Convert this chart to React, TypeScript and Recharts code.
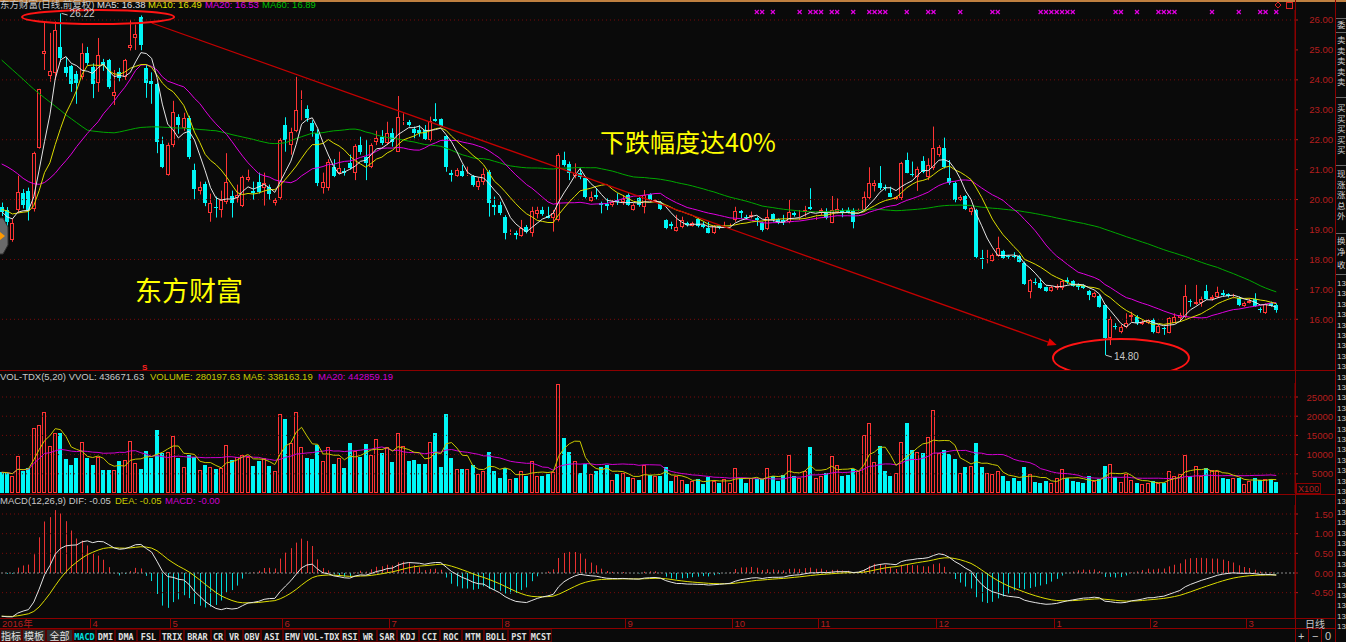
import React from 'react'
import { ComposedChart, Bar, Line, XAxis, YAxis, ReferenceLine, ReferenceDot } from 'recharts'

// 东方财富 日线 (前复权), one entry per trading day
const opens = [
  19.75, 19.65, 18.65, 19.65, 20.23, 20.3, 19.7, 21.71, 24.86, 24.13,
  24.22, 25.1, 24.43, 24.46, 24.2, 24.1, 24.9, 24.43, 23.9, 24.6,
  24.66, 23.46, 24.27, 24.1, 25.05, 25.39, 26.09, 24.4, 23.97, 23.86,
  21.86, 20.82, 21.82, 22.76, 22.39, 22.72, 21.0, 20.3, 20.52, 19.54,
  19.76, 19.65, 19.93, 20.12, 20.05, 19.78, 20.65, 20.3, 20.6, 20.38,
  20.43, 19.9, 20.05, 22.49, 21.82, 22.3, 23.33, 23.03, 22.55, 22.22,
  20.38, 20.38, 21.1, 20.89, 20.95, 21.22, 20.89, 21.82, 21.42, 21.1,
  21.93, 22.1, 21.88, 22.24, 21.6, 22.58, 22.6, 22.35, 22.32, 22.32,
  21.99, 22.68, 22.68, 22.12, 20.9, 20.79, 20.97, 20.82, 20.79, 20.43,
  20.6, 20.93, 19.82, 19.82, 19.43, 18.89, 18.87, 18.78, 19.07, 18.87,
  19.52, 19.65, 19.45, 19.37, 19.32, 21.32, 21.19, 20.8, 20.88, 20.71,
  19.96, 20.15, 19.88, 19.85, 19.82, 19.99, 19.93, 20.15, 19.65, 20.04,
  19.76, 20.17, 19.93, 19.91, 19.32, 19.17, 18.96, 19.07, 19.21, 19.13,
  19.35, 19.15, 19.04, 18.87, 19.12, 19.1, 19.1, 19.32, 19.63, 19.43,
  19.43, 19.4, 19.21, 19.01, 19.51, 19.34, 19.32, 19.26, 19.54, 19.37,
  19.6, 19.74, 19.43, 19.54, 19.56, 19.23, 19.6, 19.65, 19.65, 19.63,
  19.63, 19.65, 20.04, 20.45, 20.54, 20.42, 20.23, 20.01, 20.04, 21.32,
  20.86, 20.77, 21.3, 20.77, 21.04, 21.49, 21.73, 20.71, 20.56, 19.99,
  20.13, 19.6, 19.65, 18.06, 18.02, 17.95, 18.13, 18.28, 18.11, 18.13,
  18.13, 17.89, 16.92, 17.26, 17.2, 17.07, 16.95, 17.03, 17.03, 17.31,
  17.29, 17.15, 17.12, 16.95, 16.76, 16.79, 16.48, 15.36, 15.77, 15.59,
  15.73, 16.09, 16.09, 15.84, 15.89, 15.98, 15.55, 15.7, 15.55, 15.89,
  16.03, 16.09, 16.6, 16.5, 16.53, 16.96, 16.67, 16.73, 16.87, 16.85,
  16.7, 16.7, 16.44, 16.56, 16.67, 16.33, 16.2, 16.56, 16.49,
]
const highs = [
  19.9, 19.75, 19.37, 20.8, 20.35, 20.4, 21.6, 23.7, 25.9, 25.57,
  25.95, 26.22, 24.77, 24.5, 24.3, 25.22, 25.1, 24.55, 25.4, 24.7,
  24.7, 24.33, 24.4, 24.7, 26.0, 25.85, 26.15, 24.5, 24.25, 23.9,
  22.1, 21.9, 23.3, 22.85, 22.9, 22.8, 21.2, 20.6, 20.6, 20.2,
  20.1, 20.3, 21.55, 20.3, 20.5, 20.8, 21.0, 20.6, 20.9, 20.9,
  20.5, 20.05, 22.05, 22.75, 22.4, 24.1, 23.65, 23.15, 22.65, 22.35,
  20.9, 21.35, 21.35, 21.6, 21.05, 21.5, 21.85, 22.1, 22.0, 21.88,
  22.3, 22.32, 22.6, 22.38, 23.46, 22.88, 22.66, 22.44, 22.49, 22.49,
  22.77, 23.22, 22.71, 22.15, 20.99, 21.05, 21.16, 21.1, 20.82, 20.74,
  21.04, 20.99, 20.1, 19.93, 19.48, 19.0, 18.96, 19.32, 19.15, 19.76,
  19.76, 19.76, 19.76, 19.65, 21.55, 21.6, 21.27, 21.21, 21.04, 20.77,
  20.27, 20.38, 19.93, 20.04, 19.99, 20.21, 20.15, 20.21, 19.88, 20.1,
  20.32, 20.21, 20.0, 19.95, 19.34, 19.26, 19.49, 19.43, 19.26, 19.26,
  19.4, 19.26, 19.26, 19.15, 19.15, 19.26, 19.2, 19.76, 19.65, 19.49,
  19.6, 19.43, 19.26, 19.67, 19.54, 19.37, 19.49, 19.99, 19.6, 19.65,
  19.79, 20.38, 19.49, 19.71, 19.71, 20.12, 20.04, 19.71, 19.74, 19.71,
  19.7, 20.27, 21.08, 20.65, 21.12, 20.5, 20.43, 20.12, 21.26, 21.57,
  21.27, 21.1, 21.45, 21.38, 22.44, 21.82, 22.07, 21.32, 20.6, 20.15,
  20.15, 19.76, 19.69, 18.32, 18.32, 18.2, 18.76, 18.32, 18.15, 18.24,
  18.15, 17.93, 17.35, 17.37, 17.37, 17.09, 17.12, 17.17, 17.31, 17.4,
  17.31, 17.2, 17.17, 16.98, 16.92, 16.81, 16.5, 16.09, 15.87, 15.81,
  16.2, 16.25, 16.14, 15.98, 16.0, 16.03, 15.81, 15.75, 16.07, 16.2,
  16.22, 17.15, 16.67, 17.15, 16.76, 17.15, 16.81, 17.09, 16.98, 16.87,
  16.85, 16.76, 16.59, 16.7, 16.87, 16.4, 16.53, 16.59, 16.53,
]
const lows = [
  19.45, 19.05, 18.59, 19.55, 19.7, 19.3, 19.6, 21.7, 24.33, 23.94,
  24.0, 24.6, 24.1, 23.6, 23.2, 24.0, 24.5, 23.39, 23.6, 24.3,
  23.7, 23.16, 23.95, 24.0, 24.98, 25.0, 24.99, 23.4, 23.2, 21.55,
  21.05, 20.8, 21.75, 22.2, 22.3, 21.35, 20.0, 20.17, 19.78, 19.26,
  19.4, 19.4, 19.85, 19.4, 19.9, 19.75, 20.6, 20.0, 20.2, 19.8,
  20.0, 19.8, 20.0, 21.6, 21.5, 22.25, 22.65, 22.6, 22.1, 20.45,
  20.2, 20.3, 20.75, 20.85, 20.8, 21.0, 20.65, 21.5, 20.65, 21.05,
  21.82, 21.82, 21.82, 21.77, 21.6, 22.49, 22.44, 22.05, 22.1, 21.99,
  21.94, 22.6, 22.44, 20.93, 20.6, 20.76, 20.76, 20.79, 20.43, 20.32,
  20.49, 19.43, 19.48, 19.48, 18.67, 18.82, 18.67, 18.76, 18.87, 18.76,
  19.37, 19.46, 19.37, 18.93, 19.27, 21.1, 20.65, 20.71, 20.68, 20.04,
  19.93, 20.01, 19.54, 19.65, 19.76, 19.82, 19.82, 19.79, 19.63, 19.76,
  19.54, 19.93, 19.9, 19.65, 19.01, 19.01, 18.93, 19.04, 19.1, 19.1,
  19.07, 19.04, 18.87, 18.85, 19.01, 19.07, 19.07, 19.26, 19.37, 19.32,
  19.37, 19.12, 18.93, 18.98, 19.26, 19.18, 19.15, 19.21, 19.43, 19.32,
  19.43, 19.65, 19.32, 19.49, 19.34, 19.21, 19.54, 19.41, 19.54, 19.04,
  19.6, 19.63, 20.01, 20.27, 20.32, 20.3, 20.08, 19.99, 19.99, 20.88,
  20.77, 20.29, 20.88, 20.65, 20.99, 21.43, 21.04, 20.49, 19.91, 19.95,
  19.65, 19.48, 18.04, 17.68, 17.87, 17.93, 18.09, 18.02, 18.02, 18.04,
  17.9, 17.15, 16.7, 17.15, 17.01, 16.92, 16.92, 16.98, 16.98, 17.17,
  17.09, 16.98, 17.01, 16.64, 16.72, 16.39, 14.8, 15.14, 15.66, 15.53,
  15.7, 15.92, 15.81, 15.81, 15.84, 15.53, 15.53, 15.48, 15.53, 15.87,
  15.98, 16.03, 16.42, 16.48, 16.42, 16.65, 16.62, 16.7, 16.76, 16.73,
  16.7, 16.44, 16.42, 16.53, 16.42, 16.22, 16.18, 16.42, 16.22,
]
const closes = [
  19.6, 19.25, 19.21, 20.25, 19.82, 19.65, 21.55, 23.68, 24.97, 24.3,
  25.67, 24.72, 24.22, 23.86, 23.9, 24.9, 24.56, 23.86, 24.83, 24.5,
  23.76, 23.6, 24.05, 24.66, 25.15, 25.53, 25.16, 23.9, 23.86, 21.93,
  21.1, 21.82, 22.94, 22.5, 22.73, 21.42, 20.35, 20.42, 19.9, 19.9,
  19.72, 19.98, 20.6, 19.88, 20.15, 20.75, 20.75, 20.22, 20.26, 20.55,
  20.19, 19.98, 21.99, 21.99, 22.27, 23.0, 23.36, 22.73, 22.3, 20.55,
  20.6, 21.27, 20.79, 21.05, 20.9, 21.05, 21.79, 21.6, 21.23, 21.82,
  22.05, 21.9, 22.21, 21.94, 22.75, 22.62, 22.49, 22.21, 22.21, 22.01,
  22.64, 22.62, 22.46, 21.1, 20.82, 20.99, 20.79, 20.85, 20.49, 20.63,
  20.85, 19.87, 19.76, 19.54, 18.89, 18.93, 18.82, 19.04, 18.93, 19.62,
  19.65, 19.52, 19.4, 19.54, 21.49, 21.16, 20.88, 20.88, 20.77, 20.08,
  20.08, 20.1, 19.82, 19.8, 19.93, 19.93, 20.01, 19.82, 19.82, 19.82,
  20.15, 19.99, 19.97, 19.67, 19.04, 19.13, 19.07, 19.32, 19.15, 19.21,
  19.12, 19.1, 18.89, 19.12, 19.1, 19.12, 19.13, 19.63, 19.54, 19.4,
  19.49, 19.32, 18.98, 19.43, 19.32, 19.21, 19.26, 19.6, 19.49, 19.43,
  19.65, 19.69, 19.45, 19.65, 19.37, 19.65, 19.67, 19.54, 19.6, 19.26,
  19.65, 20.08, 20.56, 20.56, 20.38, 20.38, 20.1, 20.08, 21.23, 20.9,
  20.82, 21.01, 20.93, 21.16, 21.71, 21.77, 21.1, 20.54, 19.99, 20.1,
  19.69, 19.71, 18.09, 18.03, 18.06, 18.15, 18.37, 18.04, 18.08, 18.09,
  17.93, 17.17, 17.31, 17.2, 17.06, 16.95, 17.09, 17.12, 17.28, 17.23,
  17.12, 17.09, 17.03, 16.81, 16.87, 16.42, 15.39, 16.0, 15.73, 15.75,
  15.87, 16.14, 15.87, 15.92, 15.98, 15.59, 15.78, 15.66, 16.03, 16.07,
  16.14, 16.78, 16.58, 16.57, 16.67, 16.67, 16.76, 16.91, 16.82, 16.78,
  16.76, 16.48, 16.56, 16.62, 16.44, 16.31, 16.51, 16.44, 16.31,
]
// volume, in the panel's X100 unit
const volumes = [
  5400, 5200, 4500, 9600, 5650, 6500, 17000, 17800, 21100, 12200,
  15700, 15700, 8900, 7400, 9100, 13200, 9100, 7400, 9400, 6100,
  6100, 5900, 8300, 8700, 13500, 7700, 6300, 10900, 9100, 16400,
  10300, 10600, 14800, 9100, 6900, 9900, 9500, 6000, 7300, 6900,
  6200, 6400, 12500, 8600, 9500, 9900, 9500, 7000, 8400, 9000,
  7000, 5600, 20500, 19200, 13000, 21000, 11900, 9200, 8900, 12400,
  8400, 11900, 7600, 9000, 6400, 13000, 11000, 9500, 12700, 9900,
  14000, 10400, 12100, 8200, 15600, 12300, 8400, 8600, 7600, 7600,
  13400, 15600, 6900, 20600, 9200, 6300, 6200, 6300, 7300, 4900,
  5700, 10600, 5700, 4000, 6600, 3600, 4000, 5700, 4300, 8400,
  4400, 4500, 5000, 5500, 28400, 14400, 10800, 8400, 5300, 7500,
  4900, 5800, 6900, 7300, 3400, 5000, 5300, 4100, 3800, 3400,
  7300, 4700, 4300, 4500, 6900, 3100, 4400, 3400, 2300, 3200,
  3600, 2300, 4100, 3200, 2500, 3600, 2500, 6400, 3800, 2700,
  3800, 3700, 3700, 6400, 4400, 3200, 4700, 9900, 4400, 4000,
  5600, 11900, 3800, 4400, 5100, 9700, 7300, 4400, 4600, 6200,
  5800, 15100, 18200, 8200, 12300, 5800, 4400, 5300, 13400, 18200,
  11200, 10800, 10400, 14700, 21700, 10400, 11200, 10100, 8900, 5100,
  6700, 7000, 13000, 6900, 5300, 4900, 5700, 4300, 3100, 4000,
  3200, 6700, 5000, 2800, 2500, 3100, 2500, 4000, 6300, 3800,
  3100, 2800, 2700, 4400, 3200, 3700, 7000, 7500, 4100, 2800,
  5000, 3400, 2700, 2300, 2500, 3200, 2700, 2700, 5700, 4400,
  5000, 9800, 4300, 7000, 4300, 6400, 6000, 5700, 4000, 3700,
  3800, 4000, 2300, 3100, 3800, 3400, 3700, 3700, 2800,
]

// MA10/20/60 at the left edge, where the window reaches back before the first visible day
const ma10Lead = [19.67, 19.62, 19.52, 19.55, 19.58, 19.6, 19.8, 20.3, 20.9]
const ma20Lead = [
  21.19, 21.1, 20.99, 20.86, 20.71, 20.6, 20.53, 20.51, 20.57, 20.71,
  20.88, 21.1, 21.3, 21.52, 21.77, 21.99, 22.21, 22.41, 22.6,
]
const ma60Lead = [
  24.66, 24.5, 24.34, 24.18, 24.02, 23.85, 23.69, 23.54, 23.4, 23.26,
  23.12, 22.98, 22.83, 22.7, 22.57, 22.44, 22.32, 22.29, 22.27, 22.25,
  22.24, 22.23, 22.26, 22.3, 22.34, 22.38, 22.41, 22.42, 22.43, 22.43,
  22.42, 22.41, 22.4, 22.39, 22.39, 22.37, 22.36, 22.34, 22.33, 22.31,
  22.3, 22.26, 22.22, 22.17, 22.13, 22.09, 22.05, 22.01, 21.96, 21.92,
  21.88, 21.87, 21.88, 21.9, 21.97, 22.04, 22.1, 22.16, 22.22,
]
// EMA state on the day before the first candle (DIF and DEA both near -1.1 at the left edge)
const macdSeed = { ema12: 20.6, ema26: 21.7, dea: -1.1 }

const signalDays = [
  141, 142, 144, 149, 151, 152, 153, 155, 156, 159, 162, 163, 164, 165, 169, 173, 174, 179,
  185, 186, 194, 195, 196, 197, 198, 199, 200, 208, 209, 212, 216, 217, 218, 219, 226, 231,
  235, 236, 238,
]
const monthDays = [0, 17, 32, 53, 73, 94, 117, 137, 153, 175, 197, 215, 233]
const monthLabels = ['2016年', '4', '5', '6', '7', '8', '9', '10', '11', '12', '1', '2', '3']
const priceTicks = [16, 17, 18, 19, 20, 21, 22, 23, 24, 25, 26]
const priceGrid = [16, 18, 20, 22, 24, 26]
const volTicks = [5000, 10000, 15000, 20000, 25000]
const macdTicks = [-0.5, 0, 0.5, 1, 1.5]
const tabLabels = [
  '指标', '模板', '全部', 'MACD', 'DMI', 'DMA', 'FSL', 'TRIX', 'BRAR', 'CR', 'VR', 'OBV', 'ASI',
  'EMV', 'VOL-TDX', 'RSI', 'WR', 'SAR', 'KDJ', 'CCI', 'ROC', 'MTM', 'BOLL', 'PST', 'MCST',
]
const sideLabels = ['委', '卖', '卖', '卖', '卖', '卖', '买', '买', '买', '买', '买', '现', '涨', '涨', '总', '外', '换', '净', '收']

// layout
const SLOTS = 242
const CHART_W = 1338
const AXIS_W = 42
const BAND = (CHART_W - AXIS_W) / SLOTS
const TAB_W = [22, 24, 27, 23, 19, 22, 23, 24, 27, 14, 18, 18, 22, 19, 39, 18, 18, 20, 22, 21, 22, 22, 24, 22, 22]
const SIDE_Y = [28, 43, 53.5, 64, 74.5, 85, 111, 121.5, 132, 142.5, 153, 177, 187.5, 198, 208.5, 219, 244, 254.5, 268]

const BG = '#0a0a0a'
const UP = '#ff3434'
const DOWN = '#00f6f6'
const AXIS = '#b41e1e'
const FRAME = '#8c0000'
const GRID = '#7a0a0a'
const FONT = "'Liberation Sans', 'Noto Sans CJK SC', sans-serif"
const CJK = "'Noto Sans CJK SC', sans-serif"

const avg = (a: number[]) => a.reduce((s, v) => s + v, 0) / a.length
const rolling = (src: number[], n: number, lead: number[] = []) =>
  src.map((_, k) => (k < lead.length ? lead[k] : avg(src.slice(Math.max(0, k - n + 1), k + 1))))

const ma5 = rolling(closes, 5)
const ma10 = rolling(closes, 10, ma10Lead)
const ma20 = rolling(closes, 20, ma20Lead)
const ma60 = rolling(closes, 60, ma60Lead)
const vma5 = rolling(volumes, 5)
const vma20 = rolling(volumes, 20)

const macd = (() => {
  let e12 = macdSeed.ema12
  let e26 = macdSeed.ema26
  let dea = macdSeed.dea
  return closes.map((c) => {
    e12 = (e12 * 11 + c * 2) / 13
    e26 = (e26 * 25 + c * 2) / 27
    const dif = e12 - e26
    dea = (dea * 8 + dif * 2) / 10
    return { dif, dea, hist: 2 * (dif - dea) }
  })
})()

const rows = Array.from({ length: SLOTS }, (_, i) => {
  if (i >= closes.length) return { i }
  return {
    i,
    o: opens[i],
    h: highs[i],
    l: lows[i],
    c: closes[i],
    hl: [lows[i], highs[i]],
    vol: volumes[i],
    ma5: ma5[i],
    ma10: ma10[i],
    ma20: ma20[i],
    ma60: ma60[i],
    vma5: vma5[i],
    vma20: vma20[i],
    ...macd[i],
  }
})

function Candle(props: any) {
  const { x, y, width, height, payload } = props
  if (!payload || payload.c == null || !Number.isFinite(y)) return <g />
  const { o, h, l, c } = payload
  const k = h > l ? height / (h - l) : 0
  const py = (v: number) => y + (h - v) * k
  const mid = Math.floor(x + width / 2)
  const wx = mid + 0.5
  const top = Math.round(py(Math.max(o, c)))
  const bot = Math.max(Math.round(py(Math.min(o, c))), top + 1)
  if (c >= o) {
    return (
      <g>
        <line x1={wx} x2={wx} y1={py(h)} y2={top} stroke={UP} />
        <line x1={wx} x2={wx} y1={bot} y2={py(l)} stroke={UP} />
        <rect x={mid - 1.5} y={top + 0.5} width={3} height={Math.max(bot - top - 1, 0)} fill="none" stroke={UP} />
      </g>
    )
  }
  return (
    <g>
      <line x1={wx} x2={wx} y1={py(h)} y2={py(l)} stroke={DOWN} />
      <rect x={mid - 2} y={top} width={4} height={bot - top} fill={DOWN} />
    </g>
  )
}

function VolBar(props: any) {
  const { x, y, width, height, payload } = props
  if (!payload || payload.vol == null || !Number.isFinite(y)) return <g />
  const mid = Math.floor(x + width / 2)
  const top = Math.round(y)
  const bot = Math.round(y + height)
  if (payload.c >= payload.o) {
    return <rect x={mid - 1.5} y={top + 0.5} width={3} height={Math.max(bot - top - 1, 0)} fill="none" stroke={UP} />
  }
  return <rect x={mid - 2} y={top} width={4} height={bot - top} fill={DOWN} />
}

function HistBar(props: any) {
  const { x, y, width, height, payload } = props
  if (!payload || payload.hist == null || !Number.isFinite(y)) return <g />
  const wx = Math.floor(x + width / 2) + 0.5
  return <line x1={wx} x2={wx} y1={y} y2={y + height} stroke={payload.hist >= 0 ? '#e83030' : '#00d8d8'} />
}

const axisLabel = (fmt: (v: number) => string) => (props: any) => (
  <text x={CHART_W - 4} y={props.y + 3.5} textAnchor="end" fill={AXIS} fontSize={9.5} fontFamily={FONT}>
    {fmt(props.payload.value)}
  </text>
)

function DateTick(props: any) {
  const { x, payload } = props
  const k = monthDays.indexOf(payload.value)
  const edge = Math.floor(x - BAND / 2) + 0.5
  return (
    <g>
      <line x1={edge} x2={edge} y1={123} y2={133} stroke={FRAME} />
      <text x={Math.max(edge + 2, 3)} y={131.5} fill={AXIS} fontSize={9.5} fontFamily={FONT}>
        {monthLabels[k]}
      </text>
    </g>
  )
}

const Ellipse = (rx: number, ry: number) => (p: any) => (
  <ellipse cx={p.cx} cy={p.cy} rx={rx} ry={ry} fill="none" stroke="#ff1414" strokeWidth={2} />
)

const ExtremeTag = (text: string, dy: number) => (p: any) => (
  <g>
    <line x1={p.cx + 1} y1={p.cy} x2={p.cx + 7} y2={p.cy + dy * 0.4} stroke="#c8c8c8" />
    <text x={p.cx + 9} y={p.cy + dy} fill="#c8c8c8" fontSize={10} fontFamily={FONT}>
      {text}
    </text>
  </g>
)

const SignalMark = (p: any) => (
  <g stroke="#e000e0" strokeWidth={1.2}>
    <line x1={p.cx - 2} y1={p.cy - 2} x2={p.cx + 2} y2={p.cy + 2} />
    <line x1={p.cx - 2} y1={p.cy + 2} x2={p.cx + 2} y2={p.cy - 2} />
  </g>
)

function TrendArrow(p: any) {
  const { x1, y1, x2, y2 } = p
  const a = Math.atan2(y2 - y1, x2 - x1)
  const bx = x2 - 9 * Math.cos(a)
  const by = y2 - 9 * Math.sin(a)
  const nx = 4 * Math.sin(a)
  const ny = 4 * Math.cos(a)
  return (
    <g>
      <line x1={x1} y1={y1} x2={bx} y2={by} stroke="#c40000" strokeWidth={1.3} />
      <polygon points={`${x2},${y2} ${bx - nx},${by + ny} ${bx + nx},${by - ny}`} fill="#e00000" />
    </g>
  )
}

const lineProps = { dot: false, activeDot: false, isAnimationActive: false, strokeWidth: 1, type: 'linear' as const }

function PriceChart() {
  return (
    <ComposedChart width={CHART_W} height={370} data={rows} margin={{ top: 10, right: 0, bottom: 0, left: 0 }}>
      <XAxis dataKey="i" hide />
      <YAxis
        orientation="right"
        width={AXIS_W}
        domain={[14.306, 26.334]}
        allowDataOverflow
        ticks={priceTicks}
        interval={0}
        axisLine={{ stroke: FRAME }}
        tickLine={{ stroke: AXIS }}
        tickSize={3}
        tick={axisLabel((v) => v.toFixed(2))}
      />
      {priceGrid.map((v) => (
        <ReferenceLine key={v} y={v} stroke={GRID} strokeDasharray="1 3" />
      ))}
      <Bar dataKey="hl" barSize={4} shape={Candle} isAnimationActive={false} />
      <Line dataKey="ma60" stroke="#00a800" {...lineProps} />
      <Line dataKey="ma20" stroke="#e000e0" {...lineProps} />
      <Line dataKey="ma10" stroke="#dcdc00" {...lineProps} />
      <Line dataKey="ma5" stroke="#e4e4e4" {...lineProps} />
      <ReferenceLine segment={[{ x: 28, y: 25.9 }, { x: 197, y: 15.14 }]} shape={TrendArrow} />
      <ReferenceDot x={18} y={26.1} r={1} shape={Ellipse(76, 7)} />
      <ReferenceDot x={209} y={14.707} r={1} shape={Ellipse(68, 19)} />
      <ReferenceDot x={11} y={26.22} r={1} shape={ExtremeTag('26.22', 4)} />
      <ReferenceDot x={206} y={14.8} r={1} shape={ExtremeTag('14.80', 4.5)} />
      {signalDays.map((d) => (
        <ReferenceDot key={d} x={d} y={26.267} r={1} shape={SignalMark} />
      ))}
    </ComposedChart>
  )
}

function VolumeChart() {
  return (
    <ComposedChart width={CHART_W} height={123} data={rows} margin={{ top: 13, right: 0, bottom: 0, left: 0 }}>
      <XAxis dataKey="i" hide />
      <YAxis
        orientation="right"
        width={AXIS_W}
        domain={[0, 28650]}
        allowDataOverflow
        ticks={volTicks}
        interval={0}
        axisLine={{ stroke: FRAME }}
        tickLine={{ stroke: AXIS }}
        tickSize={3}
        tick={axisLabel((v) => String(v))}
      />
      {volTicks.map((v) => (
        <ReferenceLine key={v} y={v} stroke={GRID} strokeDasharray="1 3" />
      ))}
      <Bar dataKey="vol" barSize={4} shape={VolBar} isAnimationActive={false} />
      <Line dataKey="vma20" stroke="#d000d0" {...lineProps} />
      <Line dataKey="vma5" stroke="#c8c800" {...lineProps} />
    </ComposedChart>
  )
}

function MacdChart() {
  return (
    <ComposedChart width={CHART_W} height={133} data={rows} margin={{ top: 10, right: 0, bottom: 0, left: 0 }}>
      <XAxis
        dataKey="i"
        height={10}
        ticks={monthDays}
        interval={0}
        axisLine={false}
        tickLine={false}
        tickSize={0}
        tick={DateTick}
      />
      <YAxis
        orientation="right"
        width={AXIS_W}
        domain={[-1.144, 1.729]}
        allowDataOverflow
        ticks={macdTicks}
        interval={0}
        axisLine={{ stroke: FRAME }}
        tickLine={{ stroke: AXIS }}
        tickSize={3}
        tick={axisLabel((v) => v.toFixed(2))}
      />
      {macdTicks.map((v) => (
        <ReferenceLine key={v} y={v} stroke={v === 0 ? '#8a8a8a' : GRID} strokeDasharray={v === 0 ? '2 2' : '1 3'} />
      ))}
      <Bar dataKey="hist" barSize={4} shape={HistBar} isAnimationActive={false} />
      <Line dataKey="dea" stroke="#dcdc00" {...lineProps} />
      <Line dataKey="dif" stroke="#e4e4e4" {...lineProps} />
    </ComposedChart>
  )
}

function Overlay() {
  let tabX = 0
  const numberRows = Array.from({ length: 34 }, (_, k) => 286 + k * 10.4)
  return (
    <svg width={1346} height={642} style={{ position: 'absolute', left: 0, top: 0, pointerEvents: 'none' }}>
      <rect x={0} y={0} width={1346} height={2} fill="#c08040" />
      {/* panel frames */}
      <g stroke={FRAME}>
        <line x1={0} x2={1336} y1={370.5} y2={370.5} />
        <line x1={0} x2={1336} y1={494.5} y2={494.5} />
        <line x1={0} x2={1336} y1={618.5} y2={618.5} />
        <line x1={0} x2={1336} y1={628.5} y2={628.5} />
        <line x1={1295.5} x2={1295.5} y1={0} y2={642} />
        <line x1={1335.5} x2={1335.5} y1={0} y2={642} />
      </g>
      {/* headers */}
      <g fontFamily={FONT} fontSize={9.5}>
        <text x={0} y={7.5} fill="#c8c8c8">东方财富(日线,前复权)</text>
        <text x={97} y={7.5} fill="#e0e0e0">MA5: 16.38</text>
        <text x={148} y={7.5} fill="#e0e000">MA10: 16.49</text>
        <text x={205} y={7.5} fill="#e000e0">MA20: 16.53</text>
        <text x={262} y={7.5} fill="#00c000">MA60: 16.89</text>
        <text x={0} y={380} fill="#c8c8c8">VOL-TDX(5,20) VVOL: 436671.63</text>
        <text x={150} y={380} fill="#c8c800">VOLUME: 280197.63 MA5: 338163.19</text>
        <text x={318} y={380} fill="#d000d0">MA20: 442859.19</text>
        <text x={0} y={504} fill="#c8c8c8">MACD(12,26,9) DIF: -0.05</text>
        <text x={115} y={504} fill="#c8c800">DEA: -0.05</text>
        <text x={165} y={504} fill="#d000d0">MACD: -0.00</text>
      </g>
      <text x={142} y={370} fill="#ff2020" fontSize={8} fontWeight="bold" fontFamily={FONT}>S</text>
      {/* annotations */}
      <text x={600} y={152} fill="#ffff00" fontSize={25} fontFamily={CJK}>下跌幅度达40%</text>
      <text x={135} y={301} fill="#ffff00" fontSize={27} fontFamily={CJK}>东方财富</text>
      <polygon points="-6,218 3,218 8,227 8,245 3,254 -6,254" fill="#6a6a6a" stroke="#303030" />
      <polygon points="0,232 5,236 0,240" fill="#ff9a00" />
      <polygon points="1278,2 1281,5 1278,8 1275,5" fill="none" stroke="#e02020" />
      <rect x={1286.5} y={2.5} width={6} height={6} fill="none" stroke="#e02020" />
      {/* X100 tag */}
      <rect x={1296.5} y={483.5} width={24} height={10} fill="none" stroke={FRAME} />
      <text x={1298} y={491.5} fill={AXIS} fontSize={9} fontFamily={FONT}>X100</text>
      {/* bottom right */}
      <text x={1305} y={627.5} fill="#c8c8c8" fontSize={10} fontFamily={CJK}>日线</text>
      <g stroke={FRAME}>
        <line x1={1308.5} x2={1308.5} y1={629} y2={642} />
        <line x1={1321.5} x2={1321.5} y1={629} y2={642} />
      </g>
      <g fill="#c8c8c8" fontSize={11} fontFamily={FONT}>
        <text x={1298} y={640}>+</text>
        <text x={1312} y={640}>−</text>
        <text x={1325} y={640}>0</text>
      </g>
      {/* tabs */}
      <g fontSize={9} fontFamily={FONT}>
        {tabLabels.map((t, k) => {
          const x = tabX
          tabX += TAB_W[k]
          const cjk = /[\u4e00-\u9fff]/.test(t)
          return (
            <g key={t}>
              <rect x={x + 0.5} y={629.5} width={TAB_W[k] - 1} height={12} fill={cjk ? '#2c2c2c' : BG} stroke="#5a0000" />
              <text
                x={x + TAB_W[k] / 2}
                y={639.5}
                textAnchor="middle"
                fill={t === 'MACD' ? '#00e0e0' : '#e0e0e0'}
                fontFamily={cjk ? CJK : "'DejaVu Sans Mono', monospace"}
                fontSize={cjk ? 10 : 8.5}
                fontWeight={cjk ? 'normal' : 'bold'}
              >
                {t}
              </text>
            </g>
          )
        })}
      </g>
      {/* side info strip */}
      <g fill="#cfcfcf" fontSize={8.5} fontFamily={CJK}>
        {sideLabels.map((s, k) => (
          <text key={k} x={1337} y={SIDE_Y[k]}>{s}</text>
        ))}
        {numberRows.map((y, k) => (
          <text key={`n${k}`} x={1337} y={y} fontSize={8} fontFamily={FONT}>13</text>
        ))}
      </g>
      <g stroke="#6a6a6a">
        {[18.5, 32.5, 97.5, 165.5, 233.5, 274.5].map((y) => (
          <line key={y} x1={1336} x2={1346} y1={y} y2={y} />
        ))}
      </g>
    </svg>
  )
}

export default function App() {
  return (
    <div style={{ position: 'absolute', left: 0, top: 0, width: 1346, height: 642, background: BG, overflow: 'hidden' }}>
      <div style={{ position: 'absolute', left: -1, top: 0 }}>
        <PriceChart />
      </div>
      <div style={{ position: 'absolute', left: -1, top: 370 }}>
        <VolumeChart />
      </div>
      <div style={{ position: 'absolute', left: -1, top: 495 }}>
        <MacdChart />
      </div>
      <Overlay />
    </div>
  )
}
